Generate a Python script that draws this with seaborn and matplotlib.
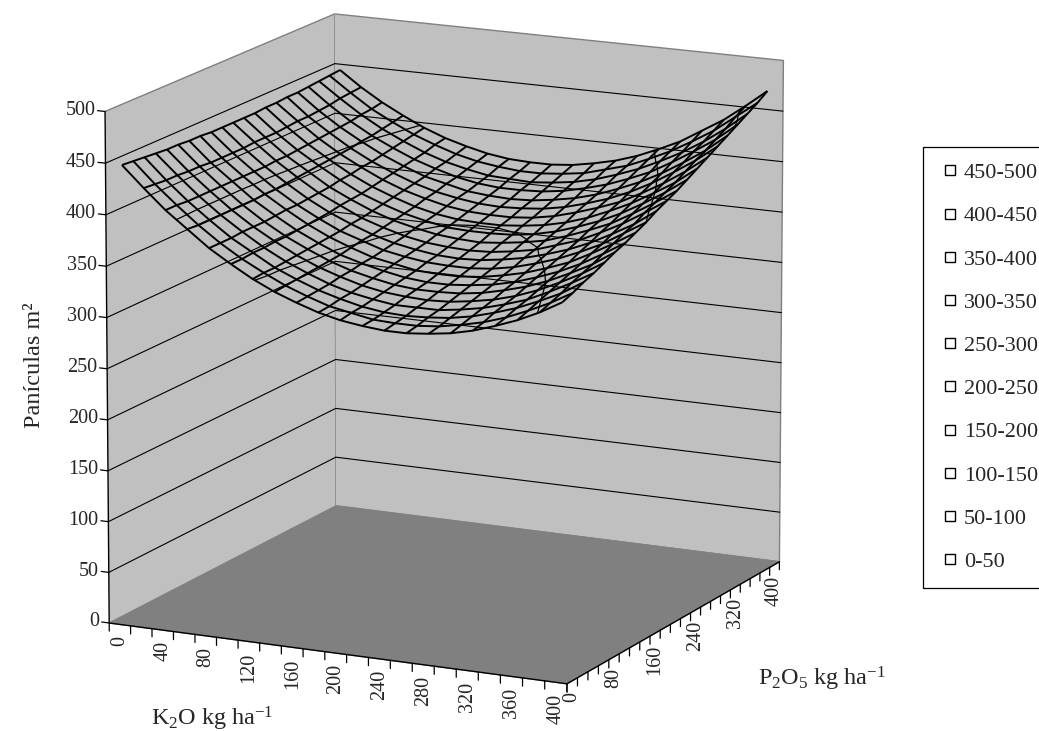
import numpy as np
import pandas as pd
import seaborn as sns
import matplotlib
matplotlib.use("Agg")
import matplotlib.pyplot as plt
from matplotlib.lines import Line2D
from mpl_toolkits.mplot3d import proj3d

sns.set_theme(style="white")
plt.rcParams["font.family"] = ["Liberation Serif", "DejaVu Serif"]
plt.rcParams["mathtext.fontset"] = "custom"
plt.rcParams["mathtext.rm"] = "Liberation Serif"
plt.rcParams["mathtext.it"] = "Liberation Serif:italic"

# ---------------- data ----------------
k2o_levels = [0, 20, 40, 60, 80, 100, 120, 140, 160, 180, 200,
              220, 240, 260, 280, 300, 320, 340, 360, 380, 400]
p2o5_levels = [0, 20, 40, 60, 80, 100, 120, 140, 160, 180, 200,
               220, 240, 260, 280, 300, 320, 340, 360, 380, 400]
k2o_tick_labels = [0, 40, 80, 120, 160, 200, 240, 280, 320, 360, 400]
p2o5_tick_labels = [0, 80, 160, 240, 320, 400]
z_ticks = [0, 50, 100, 150, 200, 250, 300, 350, 400, 450, 500]
band_labels = ["450-500", "400-450", "350-400", "300-350", "250-300",
               "200-250", "150-200", "100-150", "50-100", "0-50"]
contour_levels = [350, 400, 450]

# rows: K2O level, columns: P2O5 level  (Panículas m²)
panicles = [
    [447, 446, 445, 444, 443, 443, 442, 442, 441, 441, 441, 441, 441, 442, 442, 443, 443, 444, 445, 446, 447],
    [427, 426, 425, 425, 424, 424, 423, 423, 423, 423, 424, 424, 424, 425, 426, 426, 427, 428, 430, 431, 432],
    [408, 408, 407, 407, 407, 407, 407, 407, 407, 407, 408, 408, 409, 410, 411, 412, 413, 414, 416, 417, 419],
    [392, 391, 391, 391, 391, 391, 391, 392, 392, 393, 394, 395, 396, 397, 398, 399, 401, 402, 404, 406, 408],
    [376, 376, 376, 377, 377, 377, 378, 379, 379, 380, 381, 382, 384, 385, 387, 388, 390, 392, 394, 396, 398],
    [363, 363, 364, 364, 365, 365, 366, 367, 368, 369, 371, 372, 373, 375, 377, 379, 381, 383, 385, 388, 390],
    [351, 352, 352, 353, 354, 355, 356, 357, 358, 360, 361, 363, 365, 367, 369, 371, 373, 376, 378, 381, 384],
    [341, 342, 343, 344, 345, 346, 347, 349, 351, 352, 354, 356, 358, 360, 363, 365, 368, 370, 373, 376, 379],
    [333, 334, 335, 336, 338, 339, 341, 342, 344, 346, 348, 351, 353, 355, 358, 361, 363, 366, 369, 373, 376],
    [326, 327, 329, 330, 332, 334, 336, 338, 340, 342, 344, 347, 349, 352, 355, 358, 361, 364, 368, 371, 375],
    [321, 323, 324, 326, 328, 330, 332, 334, 337, 339, 342, 345, 348, 351, 354, 357, 360, 364, 367, 371, 375],
    [318, 319, 321, 323, 326, 328, 330, 333, 336, 338, 341, 344, 348, 351, 354, 358, 361, 365, 369, 373, 377],
    [316, 318, 320, 323, 325, 328, 330, 333, 336, 339, 342, 346, 349, 353, 356, 360, 364, 368, 372, 376, 381],
    [316, 318, 321, 323, 326, 329, 332, 335, 338, 342, 345, 349, 352, 356, 360, 364, 368, 373, 377, 382, 386],
    [318, 320, 323, 326, 329, 332, 335, 339, 342, 346, 349, 353, 357, 361, 366, 370, 374, 379, 384, 388, 393],
    [321, 324, 327, 330, 333, 337, 340, 344, 348, 352, 356, 360, 364, 368, 373, 377, 382, 387, 392, 397, 402],
    [326, 329, 333, 336, 339, 343, 347, 351, 355, 359, 363, 368, 372, 377, 381, 386, 391, 396, 402, 407, 412],
    [333, 336, 340, 343, 347, 351, 355, 359, 364, 368, 373, 377, 382, 387, 392, 397, 402, 408, 413, 419, 425],
    [341, 345, 349, 353, 357, 361, 365, 370, 374, 379, 384, 389, 394, 399, 404, 410, 415, 421, 426, 432, 438],
    [351, 355, 359, 364, 368, 372, 377, 382, 387, 391, 397, 402, 407, 412, 418, 424, 429, 435, 441, 448, 454],
    [363, 367, 372, 376, 381, 386, 390, 395, 400, 406, 411, 416, 422, 428, 434, 440, 446, 452, 458, 464, 471],
]

df = pd.DataFrame(panicles, index=k2o_levels, columns=p2o5_levels)

FS = 14.5       # tick labels
FS_TITLE = 17.5 # axis titles
FS_LEG = 16     # legend

# ---------------- figure ----------------
fig = plt.figure(figsize=(10.39, 7.31), dpi=100)
fig.patch.set_facecolor("white")
ax = fig.add_axes([-0.009, -0.01, 0.86, 1.06], projection="3d")
ax.set_facecolor("white")
ax.set_proj_type("persp", focal_length=2.5)
ax.view_init(elev=14, azim=-64)
ax.set_box_aspect((1, 1, 1.035), zoom=1.107)

step = k2o_levels[1] - k2o_levels[0]
lo = k2o_levels[0] - step / 2
hi = k2o_levels[-1] + step / 2

K, P = np.meshgrid(df.index.values, df.columns.values, indexing="ij")
Z = df.values.astype(float)

# wall gridlines (horizontal only, as in the original)
for zv in z_ticks[1:-1]:
    ax.plot([lo, lo], [lo, hi], [zv, zv], color="black", lw=0.8)
    ax.plot([lo, hi], [hi, hi], [zv, zv], color="black", lw=0.8)

# surface: transparent wireframe + band boundaries
ax.plot_wireframe(K, P, Z, rstride=1, cstride=1, color="black", linewidth=1.4)
ax.contour(K, P, Z, levels=contour_levels, colors="black", linewidths=0.9)

# panes
wall = (0.753, 0.753, 0.753, 1.0)
floor = (0.502, 0.502, 0.502, 1.0)
ax.xaxis.set_pane_color(wall)
ax.yaxis.set_pane_color(wall)
ax.zaxis.set_pane_color(floor)
for a in (ax.xaxis, ax.yaxis, ax.zaxis):
    a.pane.set_edgecolor("#808080")
    a.line.set_color((0, 0, 0, 0))
ax.grid(False)
ax.set_xticks([])
ax.set_yticks([])
ax.set_zticks([])

# axis lines
zmin, zmax = z_ticks[0], z_ticks[-1]
ax.plot([lo, lo], [lo, lo], [zmin, zmax], color="black", lw=1.0)
ax.plot([lo, hi], [lo, lo], [zmin, zmin], color="black", lw=1.0)
ax.plot([hi, hi], [lo, hi], [zmin, zmin], color="black", lw=1.0)

# value axis ticks + labels (left, front corner)
for zv in z_ticks:
    ax.plot([lo, lo - 7], [lo, lo], [zv, zv], color="black", lw=0.9)
    ax.text(lo - 9, lo, zv, str(zv), ha="right", va="center", fontsize=FS)

# category axes: tick marks at category boundaries
tick_len = 8
k_bounds = [k - step / 2 for k in k2o_levels] + [k2o_levels[-1] + step / 2]
p_bounds = [p - step / 2 for p in p2o5_levels] + [p2o5_levels[-1] + step / 2]
for b in k_bounds:
    ax.plot([b, b], [lo, lo], [zmin, zmin - tick_len], color="black", lw=0.9)
for b in p_bounds:
    ax.plot([hi, hi], [b, b], [zmin, zmin - tick_len], color="black", lw=0.9)

ax.set_xlim(lo, hi)
ax.set_ylim(lo, hi)
ax.set_zlim(zmin, zmax)

# category labels: vertical text placed at the projected label positions
fig.canvas.draw()
def vlabel(x, y, z, s):
    x2, y2, _ = proj3d.proj_transform(x, y, z, ax.M)
    ax.text2D(x2, y2, s, transform=ax.transData, rotation=90,
              ha="center", va="top", fontsize=FS)
for v in k2o_tick_labels:
    vlabel(v, lo, zmin - 11, str(v))
for v in p2o5_tick_labels:
    vlabel(hi, v, zmin - 11, str(v))

# axis titles
fig.text(35 / 1039, 1 - 365 / 731, "Panículas m²", rotation=90,
         ha="center", va="center", fontsize=FS_TITLE)
fig.text(212 / 1039, 1 - 719 / 731, r"$\mathrm{K_2O\ kg\ ha^{-1}}$",
         ha="center", va="center", fontsize=FS_TITLE)
fig.text(822 / 1039, 1 - 679 / 731, r"$\mathrm{P_2O_5\ kg\ ha^{-1}}$",
         ha="center", va="center", fontsize=FS_TITLE)

# legend (box runs off the right edge, as in the original)
handles = [Line2D([], [], linestyle="none", marker="s", markersize=7.5,
                  markerfacecolor="white", markeredgecolor="black",
                  markeredgewidth=1.0) for _ in band_labels]
leg = fig.legend(handles, band_labels, loc="upper left",
                 bbox_to_anchor=(923 / 1039, 0.1, 0.14, 1 - 147 / 731 - 0.1),
                 mode="expand",
                 frameon=True, fancybox=False, edgecolor="black", framealpha=1,
                 fontsize=FS_LEG, handlelength=1.0, handletextpad=0.15,
                 labelspacing=1.02, borderpad=0.7, borderaxespad=0)
leg.get_frame().set_linewidth(0.9)

fig.savefig("out.png", dpi=100, facecolor="white")
